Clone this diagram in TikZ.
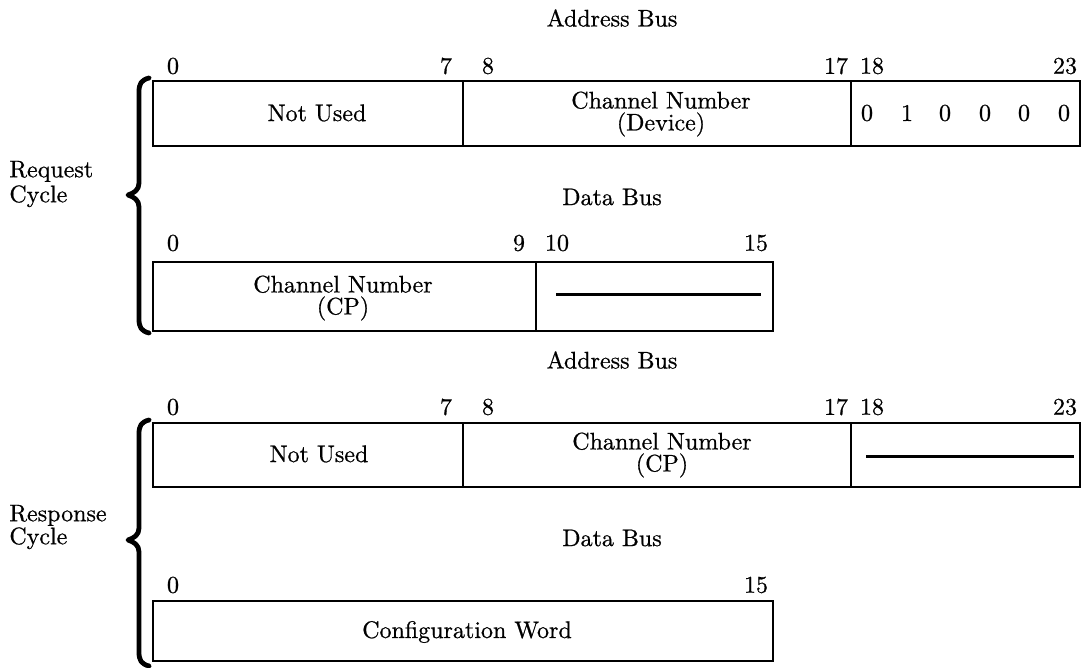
\documentclass[tikz,border=0pt]{standalone}
\usepackage{tikz}
\usepackage{fontspec}
\usetikzlibrary{calc}
\newfontfamily\printfont{lmroman10-regular.otf}[FakeBold=0.7]
\tikzset{
	field/.style={line width=1.4pt},
	lbl/.style={inner sep=0pt, font=\printfont\fontsize{12}{11}\selectfont, align=center},
	bitno/.style={inner sep=0pt, font=\printfont\fontsize{12}{11}\selectfont},
	blank/.style={line width=1.5pt},
	curly/.style={line width=2.4pt, line cap=round, line join=round}
}
\def\cyclebrace(#1:#2:#3){\draw[curly] (149,#1) .. controls (141,#1+2) and (139,#1+6) .. (139,#1+14) -- (139,#2-12) .. controls (139,#2-5) and (134,#2-2) .. (128,#2) .. controls (134,#2+2) and (139,#2+5) .. (139,#2+12) -- (139,#3-14) .. controls (139,#3-6) and (141,#3-2) .. (149,#3);}

\begin{document}
\begin{tikzpicture}[x=0.5pt, y=-0.5pt]
			%%%%% START %%%%%
			\useasboundingbox (0,0) rectangle (1082,668);
			
			% request cycle
			\node[lbl] (abus1) at (612,18) {Address Bus};
			\node[bitno] (ra0) at (173,66) {0};
			\node[bitno] (ra7) at (446,66) {7};
			\node[bitno] (ra8) at (488,66) {8};
			\node[bitno] (ra17) at (836,66) {17};
			\node[bitno] (ra18) at (872,66) {18};
			\node[bitno] (ra23) at (1065,66) {23};
			
			\draw[field] (153,81) rectangle (1080,146);
			\draw[field] (463,81) -- (463,146);
			\draw[field] (851,81) -- (851,146);
			\node[lbl] (rnotused) at (317,113) {Not Used};
			\node[lbl] (rdevice) at (661,114) {Channel Number\\(Device)};
			\node[bitno] (rbit18) at (867,113) {0};
			\node[bitno] (rbit19) at (907,113) {1};
			\node[bitno] (rbit20) at (945,113) {0};
			\node[bitno] (rbit21) at (985,113) {0};
			\node[bitno] (rbit22) at (1024,113) {0};
			\node[bitno] (rbit23) at (1064,113) {0};
			
			\node[lbl] (dbus1) at (612,197) {Data Bus};
			\node[bitno] (rd0) at (173,243) {0};
			\node[bitno] (rd9) at (519,243) {9};
			\node[bitno] (rd10) at (557,243) {10};
			\node[bitno] (rd15) at (756,243) {15};
			
			\draw[field] (153,262) rectangle (773,331);
			\draw[field] (536,262) -- (536,331);
			\node[lbl] (rcp) at (343,298) {Channel Number\\(CP)};
			\draw[blank] (556,295) -- (761,295);
			
			\node[lbl, align=left, anchor=west, font=\printfont\fontsize{12}{12.5}\selectfont] (request) at (9,184) {Request\\Cycle};
			\cyclebrace(78:195:333)
			
			% response cycle
			\node[lbl] (abus2) at (612,360) {Address Bus};
			\node[bitno] (sa0) at (173,407) {0};
			\node[bitno] (sa7) at (446,407) {7};
			\node[bitno] (sa8) at (488,407) {8};
			\node[bitno] (sa17) at (836,407) {17};
			\node[bitno] (sa18) at (872,407) {18};
			\node[bitno] (sa23) at (1065,407) {23};
			
			\draw[field] (153,423) rectangle (1080,487);
			\draw[field] (463,423) -- (463,487);
			\draw[field] (851,423) -- (851,487);
			\node[lbl] (snotused) at (319,454) {Not Used};
			\node[lbl] (scp) at (662,455) {Channel Number\\(CP)};
			\draw[blank] (866,456) -- (1074,456);
			
			\node[lbl] (dbus2) at (612,538) {Data Bus};
			\node[bitno] (sd0) at (173,585) {0};
			\node[bitno] (sd15) at (756,585) {15};
			
			\draw[field] (153,601) rectangle (773,661);
			\node[lbl] (config) at (467,632) {Configuration Word};
			
			\node[lbl, align=left, anchor=west, font=\printfont\fontsize{12}{11.5}\selectfont] (response) at (9,527) {Response\\Cycle};
			\cyclebrace(420:540:666)
			
			%%%%% END %%%%%
\end{tikzpicture}
\end{document}
